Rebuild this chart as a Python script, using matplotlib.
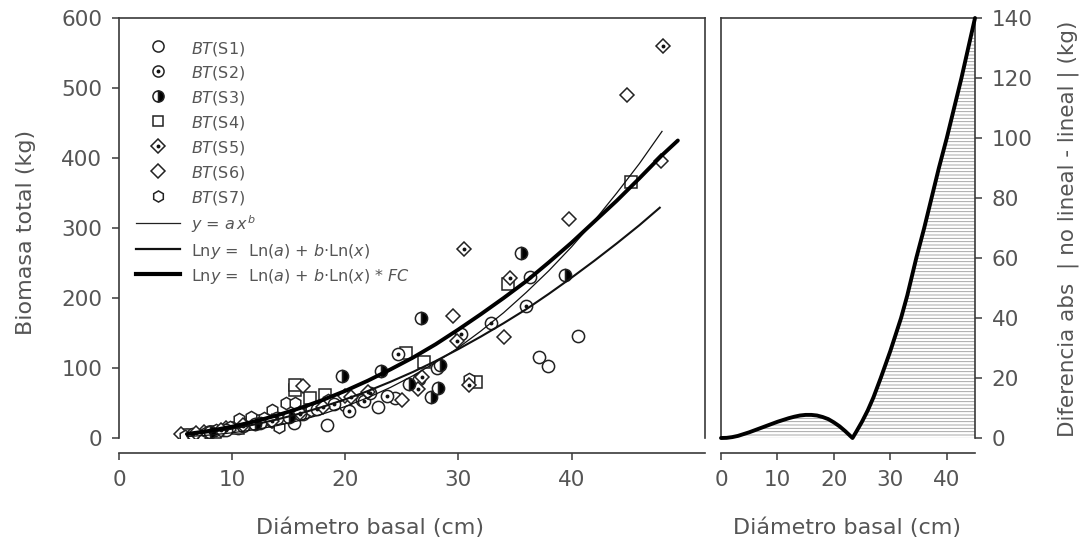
import matplotlib
matplotlib.use('Agg')
import matplotlib.pyplot as plt
from matplotlib.lines import Line2D

plt.rcParams['font.family'] = ['DejaVu Sans']
plt.rcParams['mathtext.fontset'] = 'custom'
plt.rcParams['mathtext.it'] = 'DejaVu Sans:italic'
plt.rcParams['mathtext.rm'] = 'DejaVu Sans'
plt.rcParams['hatch.linewidth'] = 0.6
plt.rcParams['hatch.color'] = '#9a9a9a'

# ---------------- data ----------------
s1_x = [6.0, 7.5, 9.2, 10.5, 12.2, 13.5, 15.5, 16.3, 18.4, 20.0, 21.5, 22.9, 24.4, 26.5, 28.1, 37.1, 37.9, 40.6]
s1_y = [4, 6, 12, 15, 22, 25, 22, 35, 19, 47, 55, 44, 57, 85, 100, 116, 103, 146]

s2_x = [6.5, 8.0, 9.5, 11.0, 12.5, 14.0, 16.0, 17.5, 19.0, 20.3, 21.7, 22.2, 23.7, 24.7, 30.2, 32.9, 36.0, 36.3]
s2_y = [6, 8, 12, 17, 22, 28, 35, 42, 48, 39, 53, 64, 60, 120, 148, 164, 188, 230]

s3_x = [8.0, 12.0, 15.0, 19.7, 23.2, 25.6, 26.7, 27.6, 28.2, 28.4, 35.5, 39.4]
s3_y = [9, 20, 30, 88, 96, 77, 172, 58, 71, 104, 264, 233]

s4_x = [6.2, 8.5, 10.5, 12.5, 15.6, 15.6, 16.9, 18.2, 25.4, 27.0, 31.6, 34.4, 45.3]
s4_y = [5, 9, 14, 25, 69, 76, 57, 61, 121, 109, 80, 220, 366]

s5_x = [6.8, 9.0, 11.0, 13.5, 16.0, 18.0, 20.5, 22.0, 26.4, 26.8, 29.9, 30.5, 30.9, 34.6, 48.1]
s5_y = [7, 11, 18, 24, 36, 45, 58, 66, 70, 87, 138, 270, 76, 228, 560]

s6_x = [5.5, 7.5, 9.5, 11.5, 13.5, 16.3, 20.0, 25.0, 29.5, 34.0, 39.8, 44.9, 47.9]
s6_y = [6, 9, 15, 22, 30, 74, 60, 54, 174, 144, 313, 490, 396]

s7_x = [5.8, 6.5, 7.2, 7.8, 8.6, 9.8, 10.6, 11.7, 12.8, 13.5, 14.1, 14.8, 15.6, 17.0, 18.5, 30.9]
s7_y = [3, 5, 4, 8, 12, 16, 27, 30, 28, 40, 16, 50, 50, 40, 55, 85]

# fitted curves
curve_x = [6, 8, 10, 12, 14, 16, 18, 20, 22, 24, 26, 28, 30, 32, 34, 36, 38, 40, 42, 44, 46, 48]
pow_y = [2.0, 4.2, 7.4, 11.9, 17.8, 25.2, 34.2, 45.0, 57.7, 72.3, 89.1, 108, 129, 153, 179, 208, 239, 273, 310, 350, 392, 438]
ln_x = [6, 8, 10, 12, 14, 16, 18, 20, 22, 24, 26, 28, 30, 32, 34, 36, 38, 40, 42, 44, 46, 47.8]
ln_y = [4.7, 8.4, 13.3, 19.4, 26.6, 35.0, 44.5, 55.2, 67.1, 80.3, 94.5, 110, 127, 145, 164, 184, 206, 229, 253, 278, 304, 329]
fc_x = [6, 8, 10, 12, 14, 16, 18, 20, 22, 24, 26, 28, 30, 32, 34, 36, 38, 40, 42, 44, 46, 48, 49.4]
fc_y = [5.7, 10.3, 16.2, 23.7, 32.5, 42.7, 54.3, 67.3, 81.9, 98.0, 115, 134, 155, 177, 200, 224, 251, 279, 309, 339, 371, 404, 425]

# absolute difference curve (right panel)
diff_x = [0, 1, 2, 3, 4, 5, 6, 7, 8, 9, 10, 11, 12, 13, 14, 15, 16, 17, 18, 19, 20, 21, 22, 23.3,
          24, 25, 26, 27, 28.3, 30, 31.9, 33, 34.6, 36, 37.3, 38.6, 40, 41.3, 42.6, 43.8, 45]
diff_y = [0, 0.05, 0.3, 0.7, 1.3, 1.9, 2.6, 3.3, 4.0, 4.7, 5.4, 6.0, 6.6, 7.1, 7.5, 7.7, 7.7, 7.5, 7.0, 6.3, 5.2, 3.9, 2.3, 0,
          2.2, 5.5, 9.2, 13.5, 20, 29, 40, 47.5, 60, 70, 80, 90, 100, 110, 120, 130, 140]

left_xticks = [0, 10, 20, 30, 40]
left_yticks = [0, 100, 200, 300, 400, 500, 600]
right_xticks = [0, 10, 20, 30, 40]
right_yticks = [0, 20, 40, 60, 80, 100, 120, 140]

legend_labels = [r'$BT$(S1)', r'$BT$(S2)', r'$BT$(S3)', r'$BT$(S4)', r'$BT$(S5)', r'$BT$(S6)', r'$BT$(S7)',
                 r'$y$ = $a\,x^{b}$',
                 r'Ln$y$ =  Ln($a$) + $b$$\cdot$Ln($x$)',
                 r'Ln$y$ =  Ln($a$) + $b$$\cdot$Ln($x$) * $FC$']

# ---------------- styling ----------------
W, H = 1079, 553
TXT = '#555555'
SP = '#3a3a3a'
EC = '#222222'
MS = 8.8
MEW = 1.1

fig = plt.figure(figsize=(W / 100, H / 100), dpi=100)
ax = fig.add_axes([119 / W, 1 - 438 / H, (705 - 119) / W, 420 / H])
ax2 = fig.add_axes([721 / W, 1 - 438 / H, (975 - 721) / W, 420 / H])

def style(a):
    for s in a.spines.values():
        s.set_color(SP)
        s.set_linewidth(1.2)
    a.spines['bottom'].set_position(('outward', 11))
    a.tick_params(colors=SP, labelcolor=TXT, labelsize=15.5, length=5, width=1.1, direction='out', pad=7)

style(ax)
style(ax2)

mk = dict(ls='none', ms=MS, mec=EC, mew=MEW, zorder=2)
dot = dict(ls='none', marker='o', ms=2.8, color='#111111', mew=0, zorder=2.1)

ax.plot(s1_x, s1_y, marker='o', mfc='white', **mk)
ax.plot(s4_x, s4_y, marker='s', mfc='white', **{**mk, 'ms': MS - 0.7})
ax.plot(s6_x, s6_y, marker='D', mfc='white', **{**mk, 'ms': MS - 1.3})
ax.plot(s7_x, s7_y, marker='h', mfc='white', **mk)
ax.plot(s2_x, s2_y, marker='o', mfc='white', **mk)
ax.plot(s2_x, s2_y, **dot)
ax.plot(s5_x, s5_y, marker='D', mfc='white', **{**mk, 'ms': MS - 1.3})
ax.plot(s5_x, s5_y, **dot)
ax.plot(s3_x, s3_y, marker='o', fillstyle='right', mfc='black', mfcalt='white', **mk)

ax.plot(curve_x, pow_y, color='#111111', lw=0.9, zorder=3)
ax.plot(ln_x, ln_y, color='#111111', lw=1.5, zorder=3)
ax.plot(fc_x, fc_y, color='#000000', lw=2.8, zorder=3, solid_capstyle='round')

ax.set_xlim(0, 51.8)
ax.set_ylim(0, 600)
ax.set_xticks(left_xticks)
ax.set_yticks(left_yticks)
ax.tick_params(axis='y', right=False)
ax.tick_params(axis='x', top=False)

# legend
lm = {**mk, 'ms': 8.0}
hs = [
    Line2D([], [], marker='o', mfc='white', **lm),
    (Line2D([], [], marker='o', mfc='white', **lm), Line2D([], [], **dot)),
    Line2D([], [], marker='o', fillstyle='right', mfc='black', mfcalt='white', **lm),
    Line2D([], [], marker='s', mfc='white', **{**lm, 'ms': 7.4}),
    (Line2D([], [], marker='D', mfc='white', **{**lm, 'ms': 7.0}), Line2D([], [], **dot)),
    Line2D([], [], marker='D', mfc='white', **{**lm, 'ms': 7.0}),
    Line2D([], [], marker='h', mfc='white', **lm),
    Line2D([], [], color='#222222', lw=0.9),
    Line2D([], [], color='#111111', lw=1.6),
    Line2D([], [], color='#000000', lw=3.0),
]
leg = ax.legend(hs, legend_labels, loc='upper left', bbox_to_anchor=(136 / W, 1 - 39 / H),
                bbox_transform=fig.transFigure, frameon=False, fontsize=11.5, handlelength=2.75,
                handleheight=1.3, handletextpad=0.7, labelspacing=0.40, borderpad=0, borderaxespad=0,
                labelcolor='#555555')

# right panel
ax2.fill_between(diff_x, 0, diff_y, facecolor='none', edgecolor='#9a9a9a', hatch='-----', linewidth=0, zorder=1)
ax2.plot(diff_x, diff_y, color='black', lw=2.8, zorder=3, clip_on=False, solid_capstyle='round')
ax2.set_xlim(0, 45)
ax2.set_ylim(0, 140)
ax2.set_xticks(right_xticks)
ax2.set_yticks(right_yticks)
ax2.yaxis.tick_right()
ax2.tick_params(axis='y', left=False, right=True, labelleft=False, labelright=True)
ax2.tick_params(axis='x', top=False)

# axis labels
fig.text(26 / W, 1 - 232 / H, 'Biomasa total (kg)', rotation=90, ha='center', va='center', fontsize=16, color=TXT)
fig.text(1068 / W, 1 - 229 / H, 'Diferencia abs  | no lineal - lineal | (kg)', rotation=90, ha='center', va='center',
         fontsize=15.5, color=TXT)
fig.text(370 / W, 1 - 528 / H, 'Diámetro basal (cm)', ha='center', va='center', fontsize=16, color=TXT)
fig.text(847 / W, 1 - 528 / H, 'Diámetro basal (cm)', ha='center', va='center', fontsize=16, color=TXT)

fig.savefig('out.png', dpi=100)
